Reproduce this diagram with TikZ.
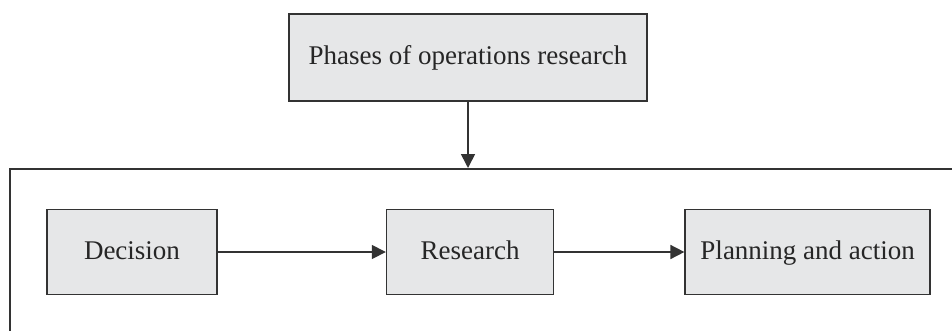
\documentclass[tikz,border=0pt]{standalone}
\usepackage{fontspec}
\setmainfont{Liberation Serif}
\usetikzlibrary{arrows.meta, positioning}

\definecolor{boxline}{HTML}{333333}
\definecolor{boxfill}{HTML}{E6E7E8}

\begin{document}
\begin{tikzpicture}[x=1pt, y=-1pt,
    node distance=168pt,
    every node/.style={font=\fontsize{27}{32}\selectfont, text=black!85},
    box/.style={draw=boxline, line width=1.6pt, fill=boxfill, minimum height=85pt, inner sep=0pt,
        text height=19pt, text depth=5pt},
    arrow/.style={-{Triangle[length=14pt, width=14pt]}, draw=boxline, line width=1.6pt}
    ]

    % page size, the outer frame runs off the right and bottom edges
    \useasboundingbox (0,0) rectangle (952,330);
    \clip (0,0) rectangle (952,330);

    \node (phases) [box, minimum width=358pt, minimum height=87pt] at (468,57.5) {Phases of operations research};
    \node (frame) [draw=boxline, line width=1.6pt, anchor=north west, minimum width=960pt, minimum height=180pt] at (9,168) {};

    \node (decision) [box, minimum width=170pt] at (132,252) {Decision};
    \node (research) [box, minimum width=167pt, right=of decision] {Research};
    \node (planning) [box, minimum width=245pt, right=130pt of research] {Planning and action};

    \draw [arrow] (phases) -- (phases |- frame.north);
    \draw [arrow] (decision) -- (research);
    \draw [arrow] (research) -- (planning);

\end{tikzpicture}
\end{document}
